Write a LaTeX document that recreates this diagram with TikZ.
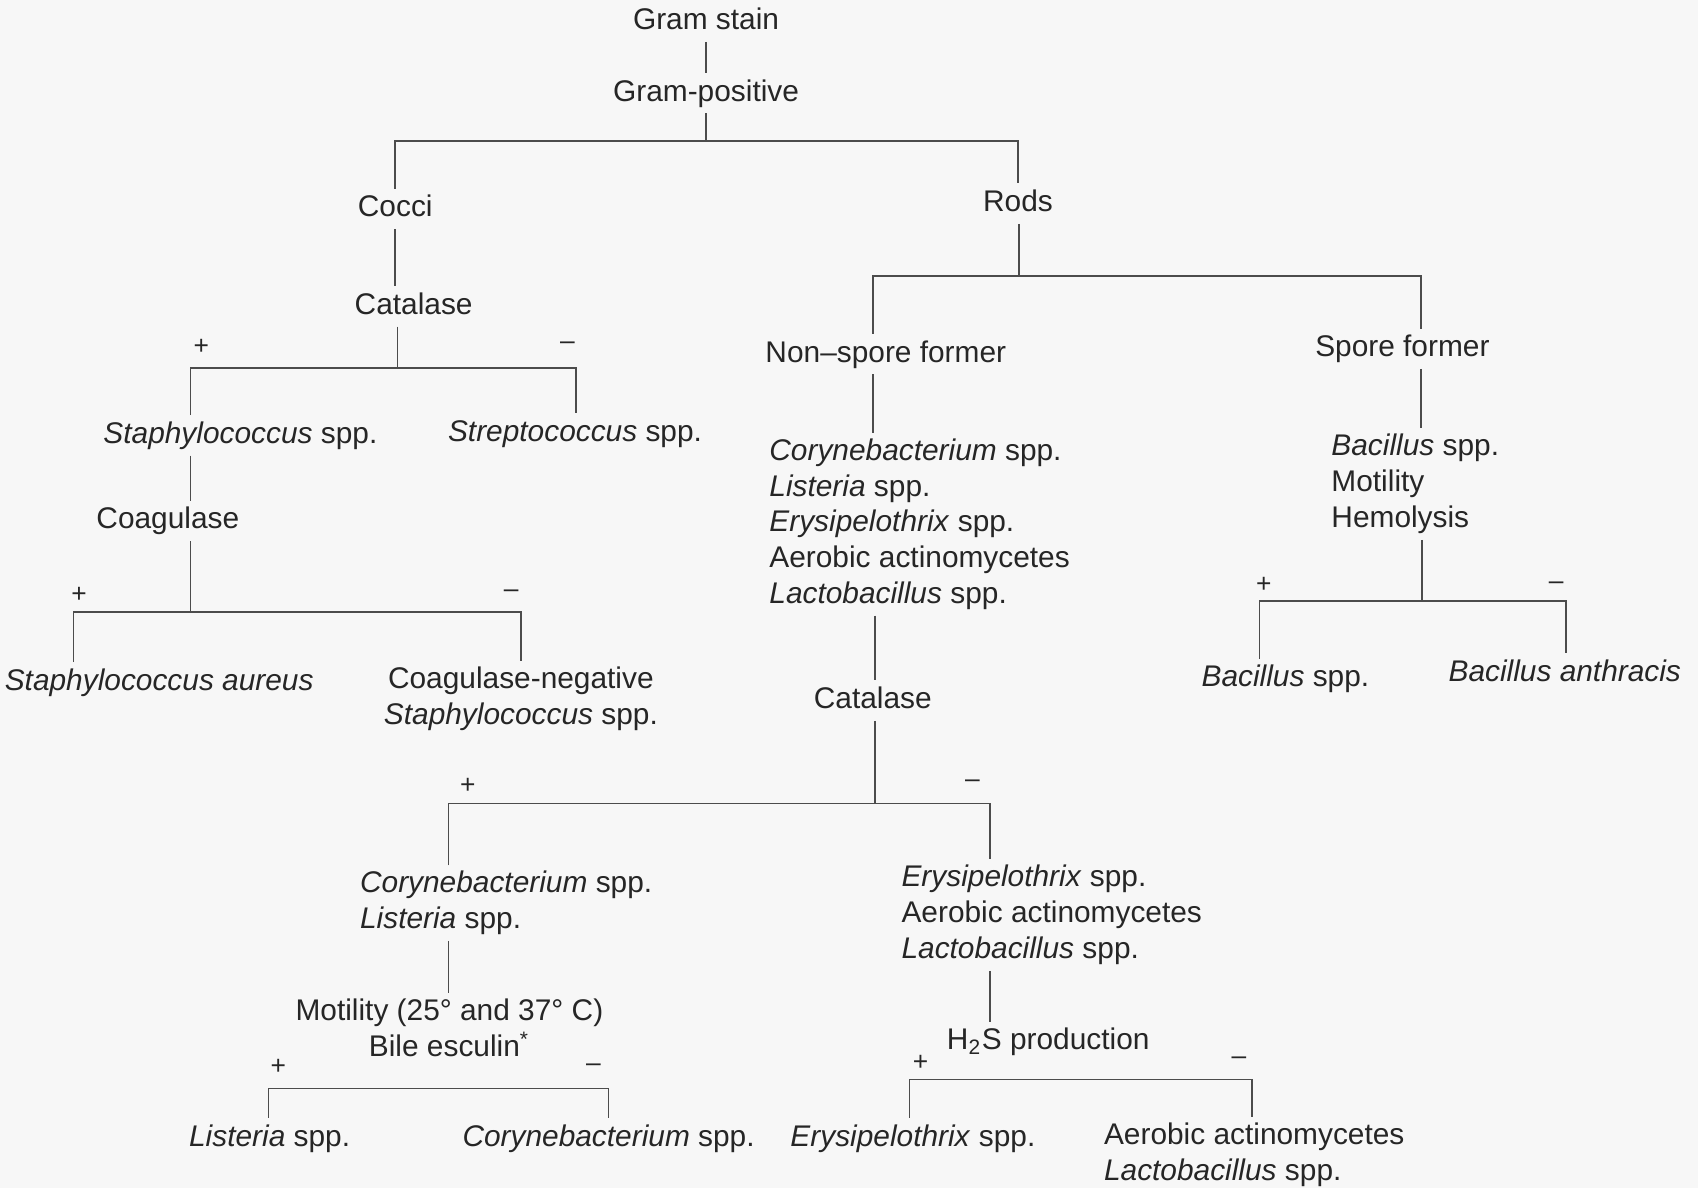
\documentclass[tikz,border=0pt]{standalone}
\usepackage{fontspec}
\setmainfont{Liberation Sans}
\begin{document}
\begin{tikzpicture}[x=0.01083cm,y=-0.01083cm,
	every node/.style={font=\fontsize{8.5}{10.2}\selectfont,text=black!85,inner sep=1.5pt,text height=6.3pt,text depth=1.8pt},
	multi/.style={align=left,text height={},text depth={}},
	link/.style={draw=black!70,line width=0.45pt},
	sign/.style={font=\fontsize{7.5}{8}\selectfont,inner sep=0pt}]
	\fill[black!3] (0,0) rectangle (1568,1097);
	\useasboundingbox (0,0) rectangle (1568,1097);
	% labels
	\node (stain) at (652,20) {Gram stain};
	\node (gpos) at (652,86) {Gram-positive};
	\node (cocci) at (365,193) {Cocci};
	\node (rods) at (940,188) {Rods};
	\node (catA) at (382,283) {Catalase};
	\node (staph) at (222,402) {\textit{Staphylococcus} spp.};
	\node (strep) at (531,400) {\textit{Streptococcus} spp.};
	\node (coag) at (155,481) {Coagulase};
	\node (saur) at (147,630) {\textit{Staphylococcus aureus}};
	\node[multi,align=center] (cons) at (481,645) {Coagulase-negative\\\textit{Staphylococcus} spp.};
	\node (nsf) at (818,327) {Non--spore former};
	\node (sf) at (1295,322) {Spore former};
	\node[multi,anchor=west] (nsflist) at (705,484) {\textit{Corynebacterium} spp.\\\textit{Listeria} spp.\\\textit{Erysipelothrix} spp.\\Aerobic actinomycetes\\\textit{Lactobacillus} spp.};
	\node (catB) at (806,647) {Catalase};
	\node[multi,anchor=west] (corlis) at (327,834) {\textit{Corynebacterium} spp.\\\textit{Listeria} spp.};
	\node[multi,anchor=west] (erylac) at (827,845) {\textit{Erysipelothrix} spp.\\Aerobic actinomycetes\\\textit{Lactobacillus} spp.};
	\node[multi,align=center] (motil) at (415,949) {Motility (25° and 37° C)\\Bile esculin\textsuperscript{*}};
	\node (lisB) at (249,1051) {\textit{Listeria} spp.};
	\node (corB) at (562,1051) {\textit{Corynebacterium} spp.};
	\node (hsp) at (968,962) {H\textsubscript{2}S production};
	\node (eryB) at (843,1051) {\textit{Erysipelothrix} spp.};
	\node[multi,anchor=west] (aerlac) at (1014,1066) {Aerobic actinomycetes\\\textit{Lactobacillus} spp.};
	\node[multi,anchor=west] (bacl) at (1224,447) {\textit{Bacillus} spp.\\Motility\\Hemolysis};
	\node (bspp) at (1187,627) {\textit{Bacillus} spp.};
	\node (bant) at (1445,622) {\textit{Bacillus anthracis}};
	% signs
	\node[sign] (pA) at (186,320) {+};
	\node[sign] (mA) at (524,315) {--};
	\node[sign] (pB) at (73,549) {+};
	\node[sign] (mB) at (472,544) {--};
	\node[sign] (pC) at (432,725) {+};
	\node[sign] (mC) at (898,720) {--};
	\node[sign] (pD) at (257,985) {+};
	\node[sign] (mD) at (548,982) {--};
	\node[sign] (pE) at (850,981) {+};
	\node[sign] (mE) at (1144,976) {--};
	\node[sign] (pF) at (1167,540) {+};
	\node[sign] (mF) at (1437,537) {--};
	% junctions
	\coordinate (j1) at (652,130);
	\coordinate (j2) at (367,340);
	\coordinate (k2l) at (176,340);
	\coordinate (k2r) at (532,340);
	\coordinate (j3) at (176,565);
	\coordinate (k3l) at (68,565);
	\coordinate (k3r) at (481,565);
	\coordinate (j4) at (941,255);
	\coordinate (k4l) at (806,255);
	\coordinate (k4r) at (1312,255);
	\coordinate (j5) at (808,742);
	\coordinate (k5l) at (414,742);
	\coordinate (k5r) at (914,742);
	\coordinate (k6l) at (248,1005);
	\coordinate (k6r) at (562,1005);
	\coordinate (k7l) at (840,997);
	\coordinate (k7r) at (1156,997);
	\coordinate (j8) at (1313,555);
	\coordinate (k8l) at (1163,555);
	\coordinate (k8r) at (1446,555);
	% connectors
	\draw[link] (stain) -- (gpos);
	\draw[link] (gpos.south) -- (j1);
	\draw[link] (cocci.north) |- (j1) -| (rods.north);
	\draw[link] (cocci.south) -- (cocci.south |- catA.north);
	\draw[link] (j2 |- catA.south) -- (j2);
	\draw[link] (k2l |- staph.north) -- (k2l) -- (k2r) -- (k2r |- strep.north);
	\draw[link] (k2l |- staph.south) -- (k2l |- coag.north);
	\draw[link] (j3 |- coag.south) -- (j3);
	\draw[link] (k3l |- saur.north) -- (k3l) -- (k3r) -- (k3r |- cons.north);
	\draw[link] (j4 |- rods.south) -- (j4);
	\draw[link] (k4l |- nsf.north) -- (k4l) -- (k4r) -- (k4r |- sf.north);
	\draw[link] (k4l |- nsf.south) -- (k4l |- nsflist.north);
	\draw[link] (j5 |- nsflist.south) -- (j5 |- catB.north);
	\draw[link] (j5 |- catB.south) -- (j5);
	\draw[link] (k5l |- corlis.north) -- (k5l) -- (k5r) -- (k5r |- erylac.north);
	\draw[link] (k5l |- corlis.south) -- (k5l |- motil.north);
	\draw[link] (k6l |- lisB.north) -- (k6l) -- (k6r) -- (k6r |- corB.north);
	\draw[link] (k5r |- erylac.south) -- (k5r |- hsp.north);
	\draw[link] (k7l |- eryB.north) -- (k7l) -- (k7r) -- (k7r |- aerlac.north);
	\draw[link] (k4r |- sf.south) -- (k4r |- bacl.north);
	\draw[link] (j8 |- bacl.south) -- (j8);
	\draw[link] (k8l |- bspp.north) -- (k8l) -- (k8r) -- (k8r |- bant.north);
\end{tikzpicture}
\end{document}
